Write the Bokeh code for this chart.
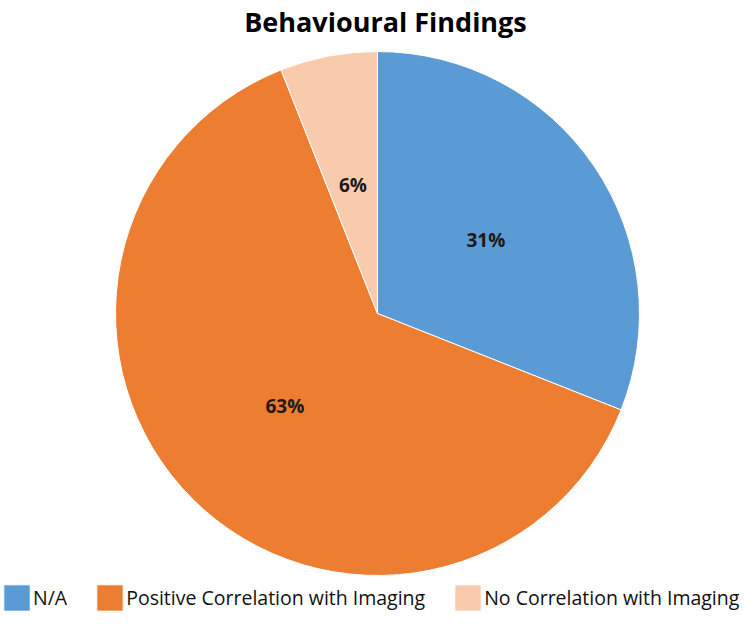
import math
from bokeh.plotting import figure
from bokeh.models import Range1d, ColumnDataSource, Legend, LegendItem
from bokeh.core.properties import value
from bokeh.embed import file_html
from bokeh.resources import INLINE

title_text = "Behavioural Findings"
categories = ["N/A", "Positive Correlation with Imaging", "No Correlation with Imaging"]
values = [31, 63, 6]
labels = ["31%", "63%", "6%"]
colors = ["#5B9BD5", "#ED7D31", "#F8CBAD"]

W, H = 740, 611
cx, cy, r = 377, 298, 262

total = sum(values)
starts, ends, lx, ly = [], [], [], []
cum = 0.0
for v in values:
    a0 = math.pi / 2 - 2 * math.pi * cum / total
    cum += v
    a1 = math.pi / 2 - 2 * math.pi * cum / total
    starts.append(a0)
    ends.append(a1)
    mid = (a0 + a1) / 2
    lx.append(cx + 0.5 * r * math.cos(mid))
    ly.append(cy + 0.5 * r * math.sin(mid))

src = ColumnDataSource(dict(start=starts, end=ends, color=colors, cat=categories,
                            lx=lx, ly=ly, lab=labels))

p = figure(width=W, height=H, output_backend="svg", toolbar_location=None,
           x_range=Range1d(0, W), y_range=Range1d(0, H), min_border=0,
           outline_line_color=None, tools="")
p.axis.visible = False
p.grid.visible = False
p.background_fill_color = "white"

renderers = []
for i in range(len(values)):
    rr = p.wedge(x=cx, y=cy, radius=r, start_angle=starts[i], end_angle=ends[i],
                 direction="clock", fill_color=colors[i], line_color="white",
                 line_width=1)
    renderers.append(rr)

p.text(x="lx", y="ly", text="lab", source=src, text_align="center",
       text_baseline="middle", text_font=value("Open Sans"), text_font_style="bold",
       text_font_size="19px", text_color="#1a1a1a")

p.text(x=[385], y=[590], text=[title_text], text_align="center",
       text_baseline="middle", text_font=value("Open Sans"), text_font_style="bold",
       text_font_size="27px", text_color="#000000")

legend = Legend(items=[LegendItem(label=categories[i], renderers=[renderers[i]])
                       for i in range(len(values))],
                orientation="horizontal", location=(0, -3),
                glyph_width=33, glyph_height=33, label_standoff=0, spacing=26,
                padding=0, margin=0, border_line_color=None, background_fill_alpha=0,
                label_text_font="Open Sans", label_text_font_size="19.5px",
                label_text_font_style="normal", label_text_color="#111111",
                label_height=33)
p.add_layout(legend, "center")

open("out.html", "w").write(file_html(p, INLINE))
